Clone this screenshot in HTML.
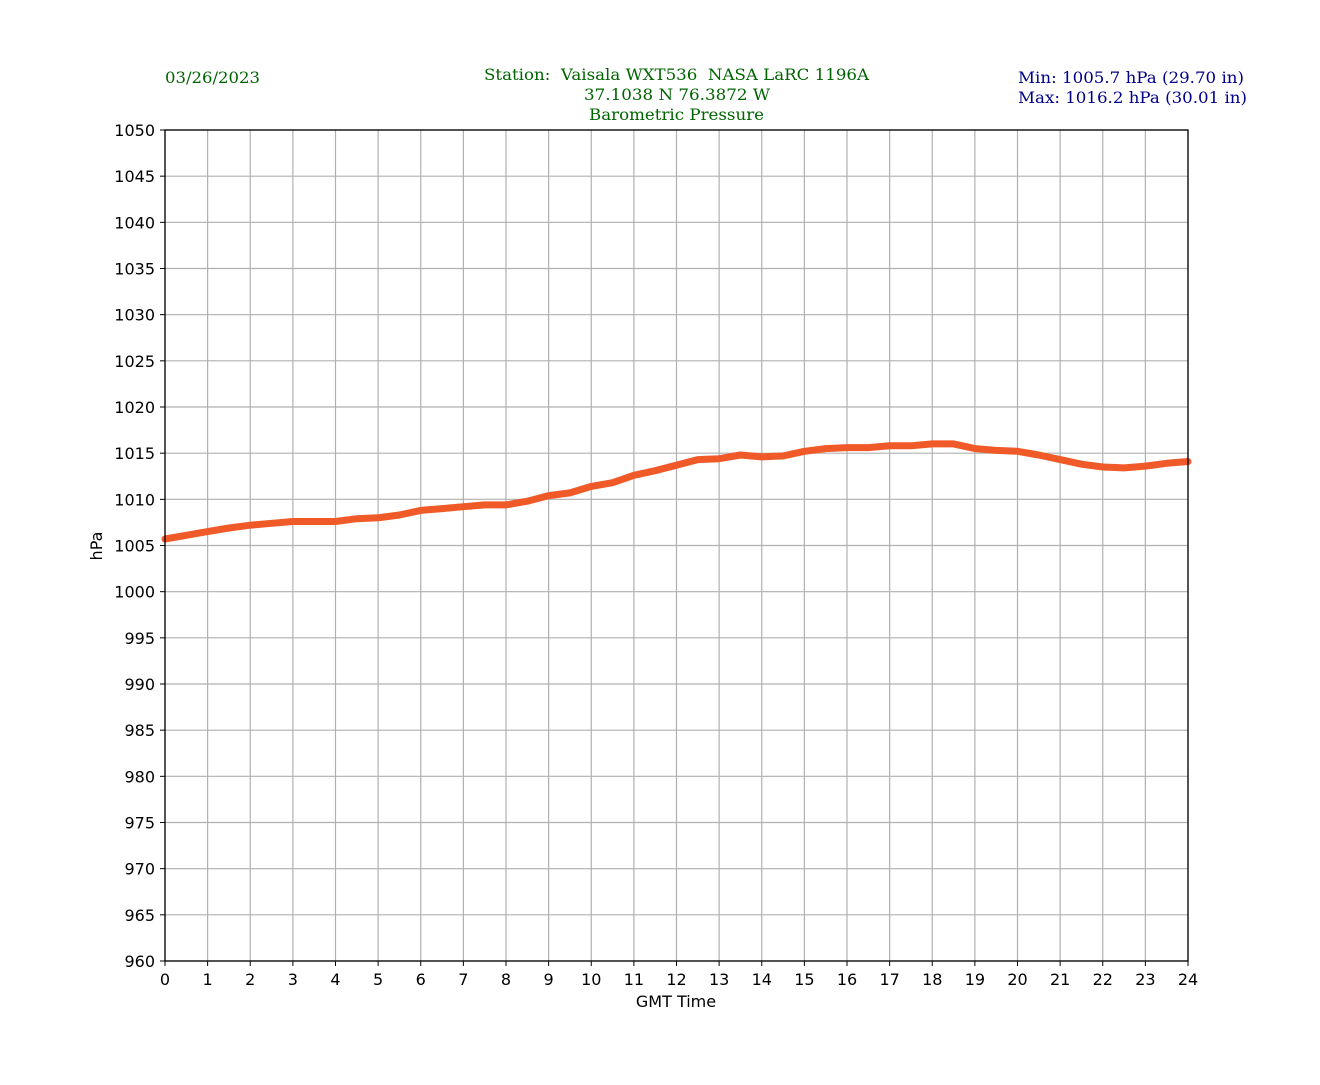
<!DOCTYPE html>
<html><head><meta charset="utf-8"><style>
body{margin:0;background:#fff;}
svg text{font-family:"DejaVu Sans","Liberation Sans",sans-serif;font-size:16px;fill:#000;}
.t{font-family:"DejaVu Serif","Liberation Serif",serif;font-size:16px;}
</style></head><body>
<svg id="s" width="1320" height="1080" xmlns="http://www.w3.org/2000/svg">
<text class="t" x="165" y="83" textLength="95" lengthAdjust="spacingAndGlyphs" style="fill:#006400">03/26/2023</text>
<text class="t" x="484" y="80" textLength="385" lengthAdjust="spacingAndGlyphs" style="fill:#006400" xml:space="preserve">Station:  Vaisala WXT536  NASA LaRC 1196A</text>
<text class="t" x="584" y="100" textLength="186" lengthAdjust="spacingAndGlyphs" style="fill:#006400">37.1038 N 76.3872 W</text>
<text class="t" x="589" y="120" textLength="175" lengthAdjust="spacingAndGlyphs" style="fill:#006400">Barometric Pressure</text>
<text class="t" x="1018" y="83" textLength="226" lengthAdjust="spacingAndGlyphs" style="fill:#00008b">Min: 1005.7 hPa (29.70 in)</text>
<text class="t" x="1018" y="103" textLength="229" lengthAdjust="spacingAndGlyphs" style="fill:#00008b">Max: 1016.2 hPa (30.01 in)</text>
<g id="g"></g>
<text x="676" y="1007" text-anchor="middle">GMT Time</text>
<text x="102" y="546" text-anchor="middle" transform="rotate(-90 102 546)">hPa</text>
</svg>
<script>
var g=document.getElementById('g'),h='';
var X0=165,X1=1188,Y0=130,Y1=961;
function x(t){return X0+(X1-X0)*t/24;}
function y(v){return Y0+(1050-v)*(Y1-Y0)/90;}
for(var t=0;t<=24;t++){var xx=x(t);
 h+='<line x1="'+xx+'" y1="'+Y0+'" x2="'+xx+'" y2="'+Y1+'" stroke="#b0b0b0" stroke-width="1.2"/>';
 h+='<line x1="'+xx+'" y1="'+Y1+'" x2="'+xx+'" y2="'+(Y1+5)+'" stroke="#000"/>';
 h+='<text x="'+xx+'" y="'+(Y1+24)+'" text-anchor="middle">'+t+'</text>';}
for(var v=960;v<=1050;v+=5){var yy=y(v);
 h+='<line x1="'+X0+'" y1="'+yy+'" x2="'+X1+'" y2="'+yy+'" stroke="#b0b0b0" stroke-width="1.2"/>';
 h+='<line x1="'+(X0-5)+'" y1="'+yy+'" x2="'+X0+'" y2="'+yy+'" stroke="#000"/>';
 h+='<text x="'+(X0-10)+'" y="'+(yy+6)+'" text-anchor="end">'+v+'</text>';}
var d=[1005.7,1006.1,1006.5,1006.9,1007.2,1007.4,1007.6,1007.6,1007.6,1007.9,1008.0,1008.3,1008.8,1009.0,1009.2,1009.4,1009.4,1009.8,1010.4,1010.7,1011.4,1011.8,1012.6,1013.1,1013.7,1014.3,1014.4,1014.8,1014.6,1014.7,1015.2,1015.5,1015.6,1015.6,1015.8,1015.8,1016.0,1016.0,1015.5,1015.3,1015.2,1014.8,1014.3,1013.8,1013.5,1013.4,1013.6,1013.9,1014.1];
var p='';for(var i=0;i<d.length;i++){p+=(i?'L':'M')+x(i*0.5).toFixed(1)+' '+y(d[i]).toFixed(1);}
h+='<path d="'+p+'" fill="none" stroke="#f05a28" stroke-width="7" stroke-linejoin="round" stroke-linecap="round"/>';
h+='<rect x="'+X0+'" y="'+Y0+'" width="'+(X1-X0)+'" height="'+(Y1-Y0)+'" fill="none" stroke="#000" stroke-width="1.3"/>';
g.innerHTML=h;
</script>
</body></html>
